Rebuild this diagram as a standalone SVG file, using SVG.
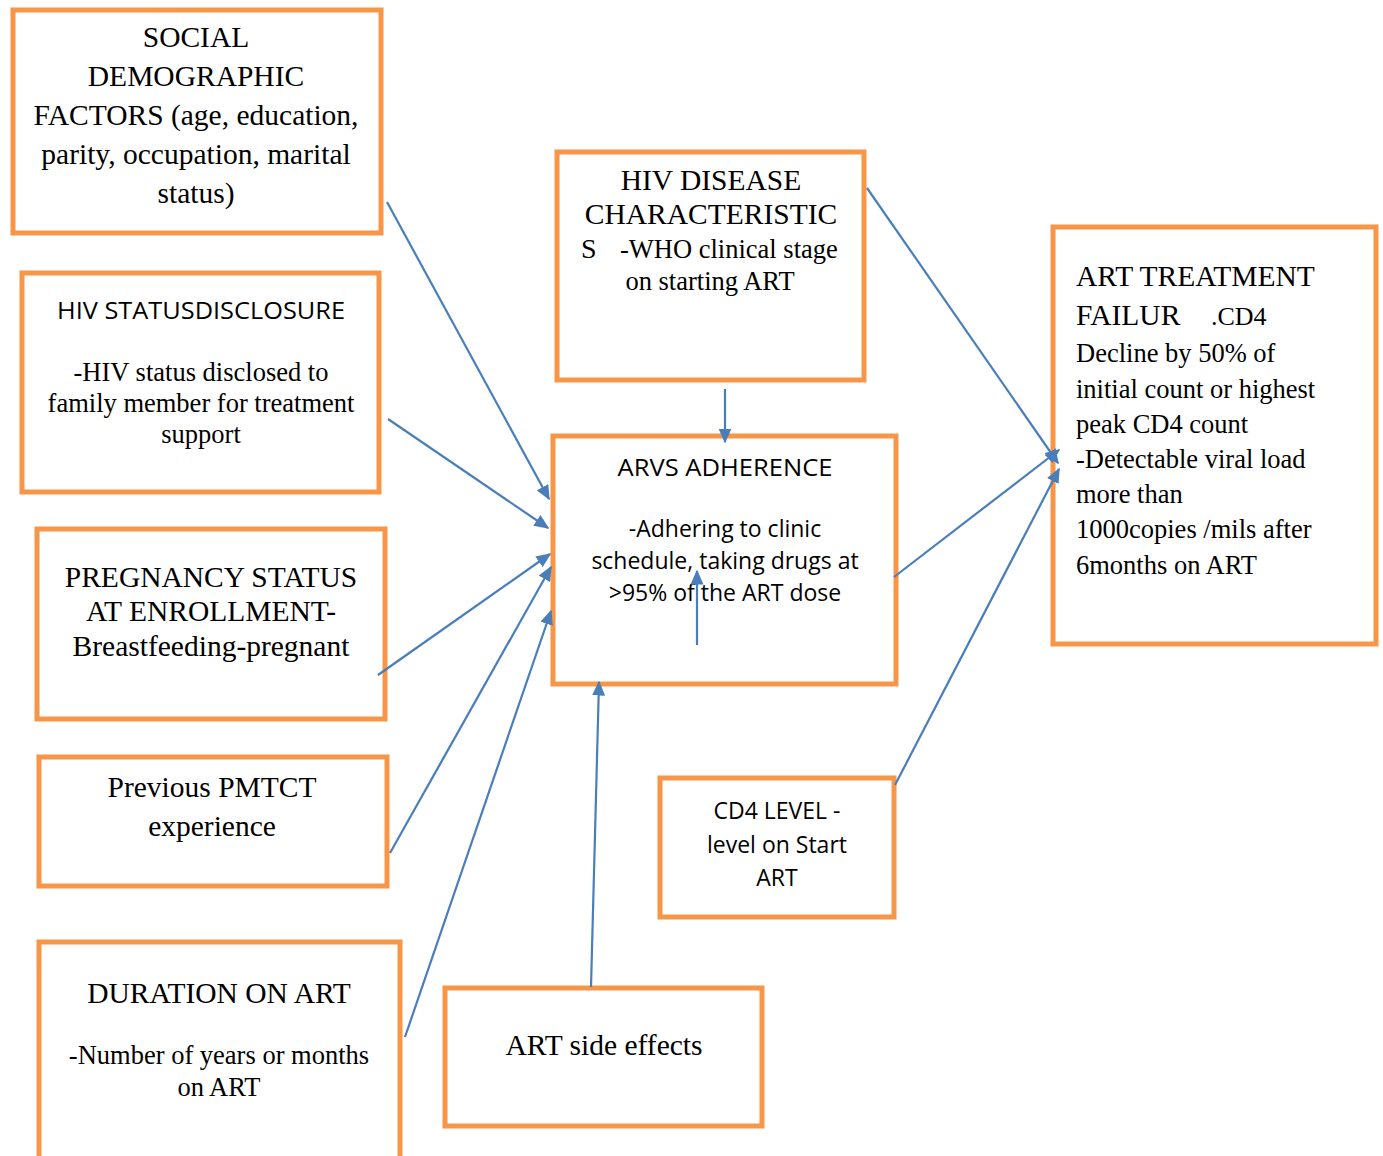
<svg xmlns="http://www.w3.org/2000/svg" width="1383" height="1156" viewBox="0 0 1383 1156">
<defs>
<style>
.box{fill:#fff;stroke:#F79646;stroke-width:5}
.s{font-family:"Liberation Serif","Times New Roman",serif;fill:#000}
.c{font-family:"Open Sans","Liberation Sans",Arial,sans-serif;fill:#000}
.m{text-anchor:middle}
.ln{stroke:#4A7EBB;stroke-width:2.2;fill:none;marker-end:url(#ah)}
</style>
<marker id="ah" viewBox="0 0 10 10" refX="9" refY="5" markerWidth="15" markerHeight="13" markerUnits="userSpaceOnUse" orient="auto" preserveAspectRatio="none"><path d="M0,0 L10,5 L0,10 z" fill="#4A7EBB"/></marker>
</defs>
<rect width="1383" height="1156" fill="#fff"/>

<g id="social">
<rect class="box" x="13" y="10" width="368" height="223"/>
<text class="s m" font-size="29.5"><tspan x="196" y="47">SOCIAL</tspan><tspan x="196" y="86">DEMOGRAPHIC</tspan><tspan x="196" y="125">FACTORS (age, education,</tspan><tspan x="196" y="164">parity, occupation, marital</tspan><tspan x="196" y="203">status)</tspan></text>
</g>

<g id="disclosure">
<rect class="box" x="22" y="273" width="357" height="219"/>
<text class="c m" x="201" y="319" font-size="23" textLength="288" lengthAdjust="spacingAndGlyphs">HIV STATUSDISCLOSURE</text>
<text class="s m" font-size="26.5"><tspan x="201" y="381">-HIV status disclosed to</tspan><tspan x="201" y="412">family member for treatment</tspan><tspan x="201" y="443">support</tspan></text>
</g>

<g id="pregnancy">
<rect class="box" x="37" y="529" width="348" height="190"/>
<text class="s m" font-size="29.5"><tspan x="211" y="587">PREGNANCY STATUS</tspan><tspan x="211" y="621">AT ENROLLMENT-</tspan><tspan x="211" y="656">Breastfeeding-pregnant</tspan></text>
</g>

<g id="pmtct">
<rect class="box" x="39" y="757" width="348" height="129"/>
<text class="s m" font-size="29.5"><tspan x="212" y="797">Previous PMTCT</tspan><tspan x="212" y="836">experience</tspan></text>
</g>

<g id="duration">
<rect class="box" x="39" y="942" width="361" height="230"/>
<text class="s m" x="219" y="1003" font-size="29.5">DURATION ON ART</text>
<text class="s m" font-size="26.5"><tspan x="219" y="1064">-Number of years or months</tspan><tspan x="219" y="1096">on ART</tspan></text>
</g>

<g id="sideeffects">
<rect class="box" x="445" y="988" width="317" height="138"/>
<text class="s m" x="604" y="1055" font-size="29.5">ART side effects</text>
</g>

<g id="cd4">
<rect class="box" x="660" y="778" width="234" height="139"/>
<text class="c m" font-size="23"><tspan x="777" y="819">CD4 LEVEL -</tspan><tspan x="777" y="853">level on Start</tspan><tspan x="777" y="886">ART</tspan></text>
</g>

<g id="hivdisease">
<rect class="box" x="557" y="152" width="307" height="228"/>
<text class="s m" font-size="29.5"><tspan x="711" y="190">HIV DISEASE</tspan><tspan x="711" y="224">CHARACTERISTIC</tspan></text>
<text class="s" x="581" y="258" font-size="28">S</text>
<text class="s" x="620" y="258" font-size="26.5">-WHO clinical stage</text>
<text class="s m" x="710" y="290" font-size="26.5">on starting ART</text>
</g>

<g id="adherence">
<rect class="box" x="553" y="436" width="343" height="248"/>
<text class="c m" x="725" y="476" font-size="23" textLength="215" lengthAdjust="spacingAndGlyphs">ARVS ADHERENCE</text>
<text class="c m" font-size="23"><tspan x="725" y="537">-Adhering to clinic</tspan><tspan x="725" y="569">schedule, taking drugs at</tspan><tspan x="725" y="601">&gt;95% of the ART dose</tspan></text>
</g>

<g id="failure">
<rect class="box" x="1053" y="227" width="323" height="417"/>
<text class="s" font-size="29.5"><tspan x="1076" y="286">ART TREATMENT</tspan><tspan x="1076" y="325">FAILUR</tspan></text>
<text class="s" x="1211" y="325" font-size="26">.CD4</text>
<text class="s" font-size="26.5"><tspan x="1076" y="362">Decline by 50% of</tspan><tspan x="1076" y="398">initial count or highest</tspan><tspan x="1076" y="433">peak CD4 count</tspan><tspan x="1076" y="468">-Detectable viral load</tspan><tspan x="1076" y="503">more than</tspan><tspan x="1076" y="538">1000copies /mils after</tspan><tspan x="1076" y="574">6months on ART</tspan></text>
</g>

<g id="connectors">
<line class="ln" x1="387" y1="202" x2="549" y2="499"/>
<line class="ln" x1="388" y1="419" x2="548" y2="528"/>
<line class="ln" x1="378" y1="675" x2="550" y2="554"/>
<line class="ln" x1="390" y1="853" x2="551" y2="567"/>
<line class="ln" x1="405" y1="1037" x2="551" y2="611"/>
<line class="ln" x1="591" y1="987" x2="599" y2="682"/>
<line class="ln" x1="725" y1="389" x2="725" y2="442"/>
<line class="ln" x1="697" y1="645" x2="697" y2="571"/>
<line class="ln" x1="867" y1="188" x2="1058" y2="463"/>
<line class="ln" x1="894" y1="577" x2="1059" y2="450"/>
<line class="ln" x1="895" y1="785" x2="1059" y2="469"/>
</g>
</svg>
